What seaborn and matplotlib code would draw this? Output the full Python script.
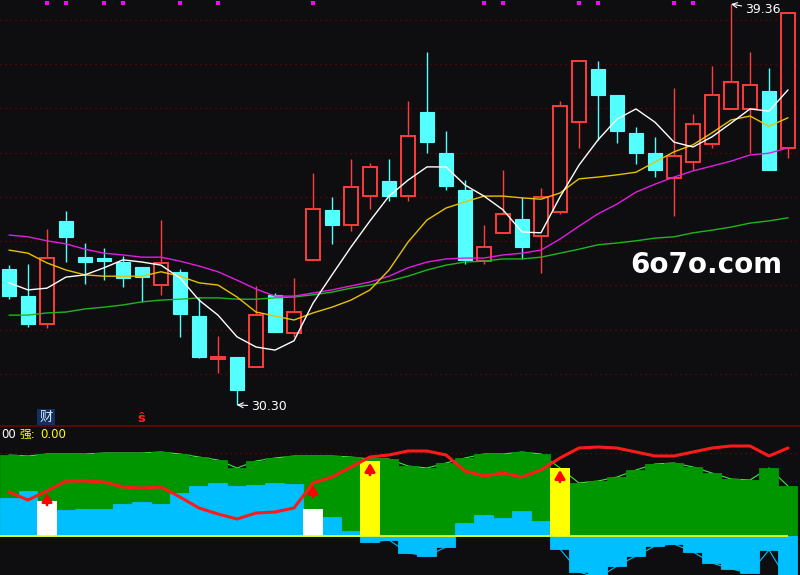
import matplotlib
matplotlib.use("Agg")
import matplotlib.pyplot as plt
import numpy as np
import seaborn as sns

# daily candles
opens = [33.37, 32.76, 32.13, 34.46, 33.64, 33.62, 33.53, 33.42, 33.01, 33.31,
         32.31, 31.34, 31.38, 31.16, 32.79, 31.93, 33.58, 34.71, 34.37, 35.02,
         35.36, 35.02, 36.92, 35.99, 35.16, 33.55, 34.19, 34.50, 34.12, 34.66,
         36.69, 37.89, 37.31, 36.45, 35.99, 35.43, 35.79, 36.20, 36.99, 36.99,
         37.40, 36.11]
highs = [33.46, 33.49, 34.28, 34.68, 33.96, 33.85, 33.67, 33.42, 34.48, 33.37,
         32.74, 31.86, 31.38, 32.99, 32.83, 33.17, 35.54, 35.00, 35.86, 35.77,
         35.86, 37.17, 38.28, 36.49, 35.38, 34.37, 35.61, 35.00, 35.20, 37.17,
         38.10, 38.07, 37.31, 36.58, 36.36, 37.46, 36.88, 37.96, 39.36, 38.28,
         37.92, 39.16]
lows = [32.70, 32.06, 32.04, 33.53, 33.03, 33.12, 32.97, 32.63, 32.79, 31.84,
        31.36, 31.02, 30.30, 31.16, 31.95, 31.84, 33.58, 33.94, 34.23, 34.73,
        34.91, 34.91, 35.99, 35.16, 33.49, 33.49, 34.19, 33.60, 33.28, 34.62,
        36.11, 36.29, 36.22, 35.75, 35.45, 34.57, 35.61, 36.11, 36.99, 35.99,
        35.61, 35.88]
closes = [32.76, 32.13, 33.62, 34.10, 33.53, 33.55, 33.17, 33.19, 33.51, 32.36,
          31.38, 31.38, 30.64, 32.33, 31.95, 32.40, 34.73, 34.37, 35.23, 35.68,
          35.02, 36.38, 36.24, 35.25, 33.58, 33.87, 34.62, 33.87, 35.00, 37.06,
          38.07, 37.31, 36.49, 35.99, 35.61, 35.93, 36.65, 37.31, 37.60, 37.53,
          35.61, 39.16]

# moving average lines as drawn
ma5 = [33.06, 32.90, 32.94, 33.19, 33.24, 33.40, 33.58, 33.53, 33.46, 33.17,
       32.67, 32.33, 31.84, 31.61, 31.54, 31.75, 32.60, 33.24, 33.87, 34.46,
       35.02, 35.38, 35.68, 35.68, 35.27, 35.02, 34.71, 34.21, 34.19, 35.00,
       35.72, 36.29, 36.76, 36.99, 36.69, 36.24, 36.13, 36.36, 36.67, 36.99,
       36.94, 37.42]
ma10 = [33.80, 33.73, 33.51, 33.35, 33.24, 33.21, 33.21, 33.21, 33.31, 33.21,
        33.06, 33.01, 32.74, 32.40, 32.31, 32.22, 32.38, 32.51, 32.67, 32.90,
        33.35, 33.98, 34.48, 34.75, 34.89, 35.02, 35.02, 34.98, 34.95, 35.09,
        35.41, 35.45, 35.50, 35.56, 35.79, 36.02, 36.18, 36.45, 36.74, 36.83,
        36.60, 36.79]
ma20 = [34.14, 34.10, 34.01, 33.94, 33.82, 33.73, 33.69, 33.64, 33.64, 33.55,
        33.44, 33.31, 33.12, 32.92, 32.76, 32.76, 32.83, 32.90, 32.99, 33.08,
        33.21, 33.40, 33.53, 33.60, 33.62, 33.62, 33.69, 33.73, 33.80, 34.05,
        34.34, 34.62, 34.84, 35.11, 35.29, 35.45, 35.59, 35.70, 35.81, 35.95,
        35.99, 36.11]
ma60 = [32.33, 32.33, 32.38, 32.40, 32.47, 32.51, 32.56, 32.63, 32.67, 32.69,
        32.72, 32.72, 32.69, 32.69, 32.72, 32.74, 32.79, 32.85, 32.94, 33.01,
        33.10, 33.21, 33.35, 33.46, 33.53, 33.55, 33.60, 33.60, 33.64, 33.73,
        33.82, 33.92, 33.96, 34.01, 34.07, 34.10, 34.19, 34.25, 34.32, 34.41,
        34.46, 34.53]

# days carrying the little magenta flag on top
flag_days = [2, 3, 5, 6, 9, 11, 16, 25, 26, 30, 31, 35, 36]

# lower indicator panel
green_bars = [81, 80, 82, 82, 82, 83, 83, 83, 84, 82, 79, 76, 68, 75, 78, 80,
              80, 80, 79, 77, 77, 70, 68, 73, 78, 82, 82, 84, 82, 68, 53, 55,
              59, 66, 72, 73, 69, 63, 57, 56, 68, 50]
cyan_up = [38, 45, 0, 26, 27, 27, 32, 34, 32, 43, 50, 53, 50, 51, 53, 52, 0,
           19, 5, 0, 0, 0, 0, 0, 13, 21, 18, 25, 15, 0, 0, 0, 0, 0, 0, 0, 0,
           0, 0, 0, 0, 0]
cyan_down = [0, 0, 0, 0, 0, 0, 0, 0, 0, 0, 0, 0, 0, 0, 0, 0, 0, 0, 0, -6, -4,
             -17, -20, -11, 0, 0, 0, 0, 0, -13, -36, -42, -30, -20, -10, -8,
             -16, -27, -33, -37, -14, -45]
strength = [44, 36, 45, 55, 55, 54, 49, 48, 49, 39, 28, 22, 17, 23, 24, 28, 53,
            59, 69, 79, 81, 85, 85, 81, 65, 60, 63, 59, 66, 78, 88, 89, 88, 84,
            80, 80, 84, 88, 90, 90, 80, 88]
signal_days = [2, 16, 19, 29]
signal_tops = [35, 27, 75, 68]
signal_colors = ["white", "white", "#ffff00", "#ffff00"]
arrow_base = [31, 39, 61, 54]
arrow_tip = [43, 51, 73, 66]

BG = "#0e0e11"
RED = "#ff3c3c"
CYAN = "#54ffff"
GRID = "#7a0000"
GREEN = "#009600"
SKY = "#00bfff"

sns.set_style("dark")
plt.rcParams["font.family"] = ["DejaVu Sans", "Noto Sans CJK SC"]

fig = plt.figure(figsize=(8, 5.75), dpi=100, facecolor=BG)
ax = fig.add_axes([0, 150 / 575, 1, 425 / 575])
ax2 = fig.add_axes([0, 0, 1, 150 / 575])
for a in (ax, ax2):
    a.set_facecolor(BG)
    a.set_xticks([])
    a.set_yticks([])
    for s in a.spines.values():
        s.set_visible(False)
    a.set_xlim(-0.4737, 41.632)
ax.set_ylim(29.847, 39.452)
ax2.set_ylim(-39, 111)

days = np.arange(len(opens))
o = np.array(opens)
c = np.array(closes)
h = np.array(highs)
l = np.array(lows)
up = c >= o
col = np.where(up, RED, CYAN)

# price grid
for p in range(31, 40):
    ax.axhline(p, color=GRID, lw=0.9, ls=(0, (1, 3)), zorder=0)

# candles
body_lo = np.minimum(o, c)
body_hi = np.maximum(o, c)
ax.vlines(days, l, body_lo, colors=col, lw=1, zorder=2)
ax.vlines(days, body_hi, h, colors=col, lw=1, zorder=2)
ax.bar(days[~up], (body_hi - body_lo)[~up], bottom=body_lo[~up], width=0.74,
       color=CYAN, edgecolor=CYAN, lw=0.8, zorder=3)
ax.bar(days[up], np.maximum(body_hi - body_lo, 0.03)[up], bottom=body_lo[up],
       width=0.7, facecolor=BG, edgecolor=RED, lw=1.4, zorder=3)

# moving averages
for vals, color in [(ma60, "#1fb51f"), (ma20, "#e01ee0"), (ma10, "#e6c200"), (ma5, "white")]:
    sns.lineplot(x=days, y=vals, ax=ax, color=color, lw=1, legend=False, zorder=4)

ax.scatter(flag_days, [ax.get_ylim()[1] - 0.07] * len(flag_days), marker="s",
           s=6, color="#ff00ff", linewidths=0, zorder=5)

# high / low marks
hi_i = int(np.argmax(h))
lo_i = int(np.argmin(l))
ax.annotate(f"{h[hi_i]:.2f}", xy=(hi_i, h[hi_i]), xytext=(10, -4),
            textcoords="offset points", ha="left", va="center", color="white",
            fontsize=9, arrowprops=dict(arrowstyle="->", color="white", lw=0.8,
                                        shrinkA=0, shrinkB=0))
ax.annotate(f"{l[lo_i]:.2f}", xy=(lo_i, l[lo_i]), xytext=(10, -1),
            textcoords="offset points", ha="left", va="center", color="white",
            fontsize=9, arrowprops=dict(arrowstyle="->", color="white", lw=0.8,
                                        shrinkA=0, shrinkB=0))

# lower panel
for lvl in (83, 55):
    ax2.axhline(lvl, color=GRID, lw=0.9, ls=(0, (1, 3)), zorder=0)
ax2.axhline(110.3, color="#5a0606", lw=1.5, zorder=0)

sns.lineplot(x=days, y=green_bars, ax=ax2, color="#33ee33", lw=0.8, legend=False, zorder=1)
down_line = np.where(np.array(cyan_down) < 0, cyan_down, np.nan)
ax2.plot(days, down_line, color=SKY, lw=0.8, zorder=1)
ax2.bar(days, green_bars, width=1.0, color=GREEN, edgecolor=GREEN, lw=0.6, zorder=2)
ax2.bar(days, cyan_up, width=1.0, color=SKY, edgecolor=SKY, lw=0.6, zorder=3)
ax2.bar(days, cyan_down, width=1.0, color=SKY, edgecolor=SKY, lw=0.6, zorder=3)
ax2.bar(signal_days, signal_tops, width=1.1, color=signal_colors, lw=0, zorder=4)
ax2.hlines(0, days[0] - 0.5, days[-1], color="#ffff00", lw=1.2, zorder=5)
sns.lineplot(x=days, y=strength, ax=ax2, color="#ff1a1a", lw=2.2, legend=False, zorder=6)
for d, b, t in zip(signal_days, arrow_base, arrow_tip):
    ax2.annotate("", xy=(d, t), xytext=(d, b),
                 arrowprops=dict(arrowstyle="-|>,head_length=0.5,head_width=0.3",
                                 color="red", lw=2, shrinkA=0, shrinkB=0), zorder=7)

# text labels
def px(x, y):
    return x / 800, 1 - y / 575

fig.text(*px(1, 434), "00", color="white", fontsize=8.5, ha="left", va="center")
fig.text(*px(20, 434), "强:", color="#ffff00", fontsize=8.5, ha="left", va="center")
fig.text(*px(40, 434), "0.00", color="#ffff00", fontsize=8.5, ha="left", va="center")
fig.text(*px(46, 417), "财", color="#dde8ff", fontsize=9.5, ha="center", va="center",
         bbox=dict(boxstyle="square,pad=0.15", facecolor="#12305e", edgecolor="none"))
fig.text(*px(141, 418), "ŝ", color="#ff2020", fontsize=9.5, ha="center", va="center",
         weight="bold")
fig.text(*px(706, 265), "6o7o.com", color="white", fontsize=20, ha="center",
         va="center", weight="bold")

fig.savefig("out.png", dpi=100, facecolor=fig.get_facecolor())
